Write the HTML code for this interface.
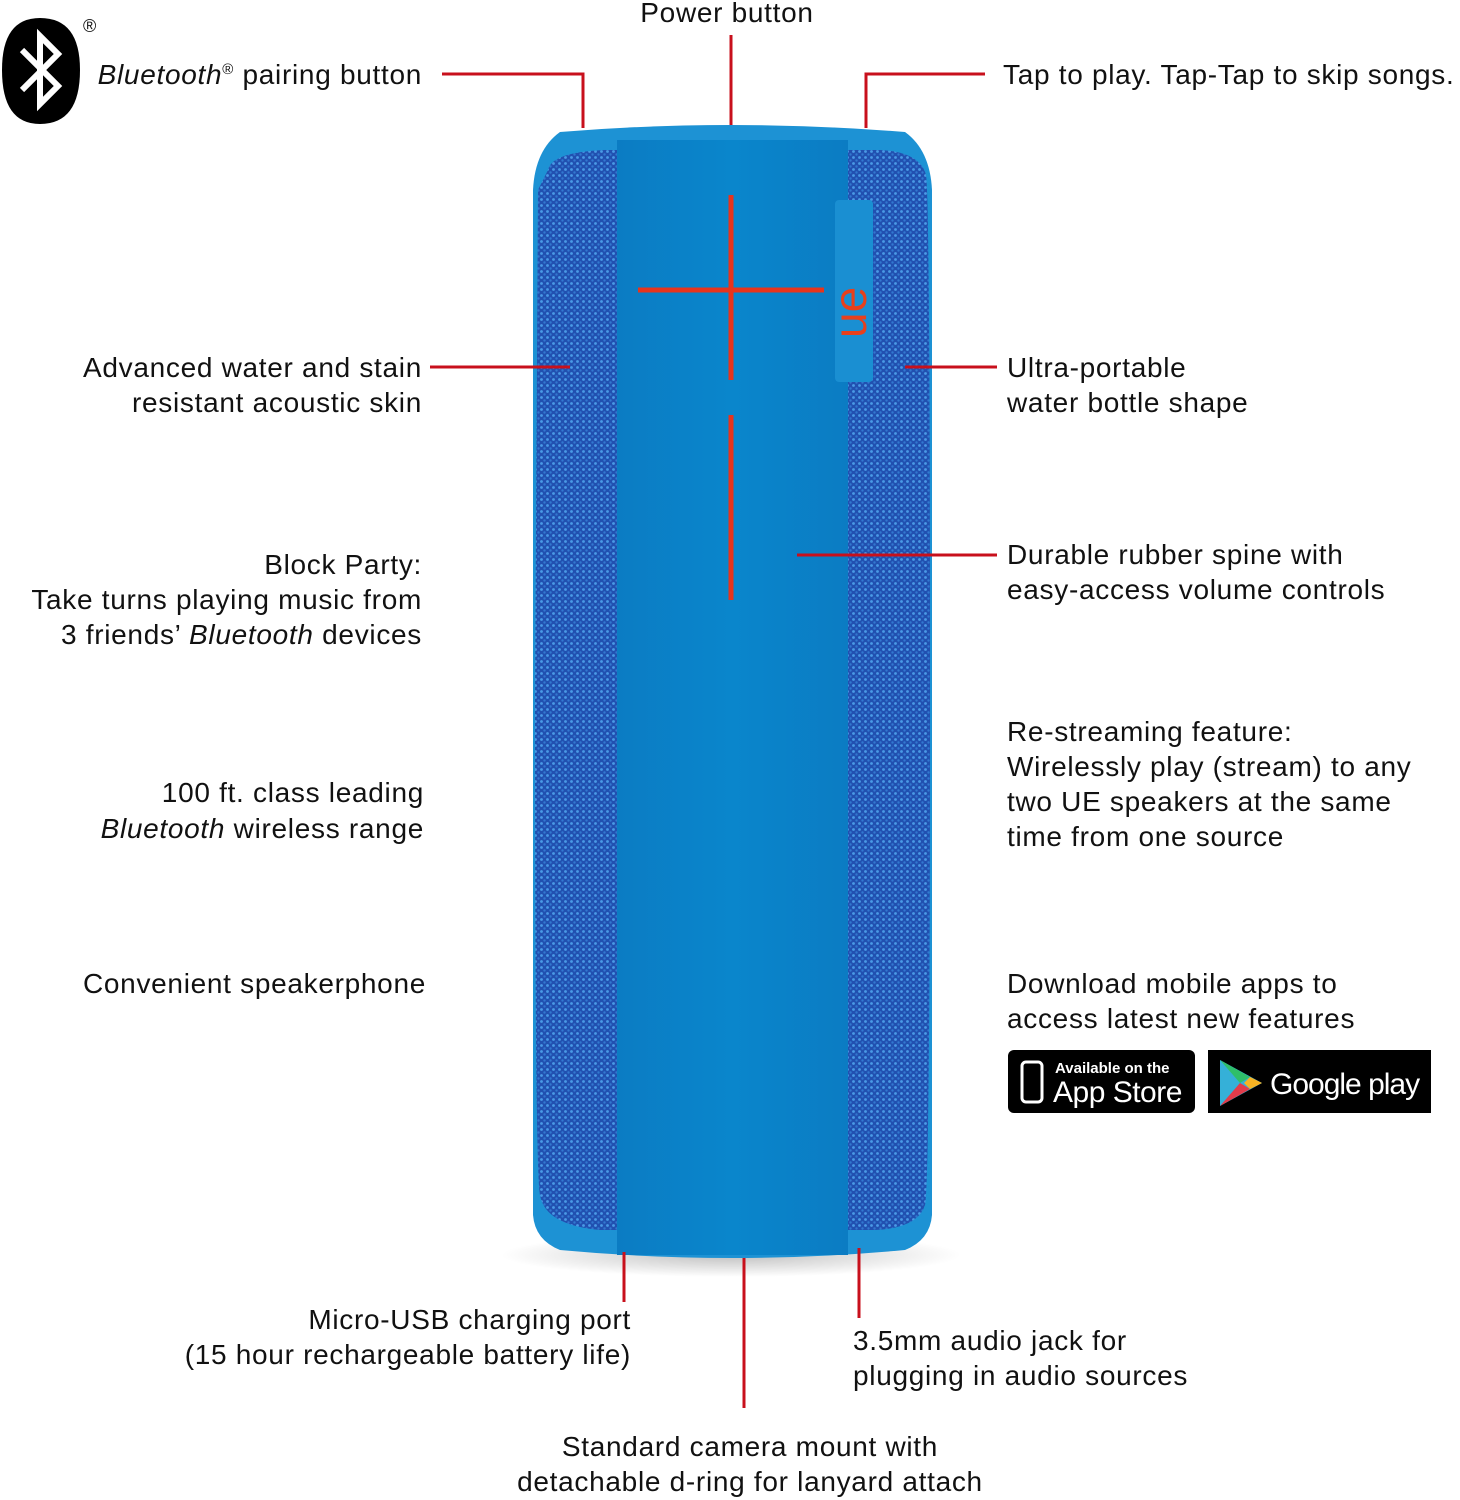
<!DOCTYPE html>
<html><head><meta charset="utf-8"><style>
html,body{margin:0;padding:0;background:#fff;}
svg{display:block;}
text{font-family:"Liberation Sans",sans-serif;font-size:28px;fill:#111;letter-spacing:0.7px;}
.r{text-anchor:end}
.m{text-anchor:middle}
</style></head><body>
<svg width="1460" height="1500" viewBox="0 0 1460 1500" xmlns="http://www.w3.org/2000/svg">
<defs>
<pattern id="fab" width="6" height="6" patternUnits="userSpaceOnUse">
<rect width="6" height="6" fill="#2150b0"/>
<circle cx="1.5" cy="1.5" r="1.4" fill="#4a9ae6"/>
<circle cx="4.5" cy="4.5" r="1.2" fill="#3278d0"/>
</pattern>
<linearGradient id="spine" x1="0" x2="1">
<stop offset="0" stop-color="#0b7cc3"/><stop offset="0.5" stop-color="#0a86cc"/><stop offset="1" stop-color="#0b7cc3"/>
</linearGradient>
<radialGradient id="sh" cx="0.5" cy="0.5" r="0.5"><stop offset="0" stop-color="#000" stop-opacity="0.25"/><stop offset="1" stop-color="#000" stop-opacity="0"/></radialGradient>
</defs>
<ellipse cx="731" cy="1255" rx="230" ry="22" fill="url(#sh)"/>
<path d="M560 132 Q731 118 905 132 Q930 150 932 190 L932 1215 Q930 1240 905 1250 Q731 1266 560 1250 Q535 1240 533 1215 L533 190 Q535 150 560 132Z" fill="#1d92d4"/>
<path d="M548 170 Q552 152 605 150 L617 150 L617 1230 L600 1230 Q545 1225 540 1195 Q535 1175 535 700 L538 190Z" fill="url(#fab)"/>
<path d="M848 150 L880 150 Q920 152 926 175 Q930 200 930 700 Q930 1180 925 1205 Q918 1228 875 1230 L848 1230Z" fill="url(#fab)"/>
<rect x="617" y="140" width="231" height="1115" fill="url(#spine)"/>
<rect x="835" y="200" width="38" height="182" rx="4" fill="#1a8fd2"/>
<text x="0" y="0" transform="translate(866,338) rotate(-90)" style="font-size:46px;fill:#e8401c;letter-spacing:0">ue</text>
<line x1="731" y1="195" x2="731" y2="380" stroke="#e8341c" stroke-width="5"/>
<line x1="638" y1="290" x2="824" y2="290" stroke="#e8341c" stroke-width="5"/>
<line x1="731" y1="415" x2="731" y2="600" stroke="#e8341c" stroke-width="5"/>
<g stroke="#c8101c" stroke-width="3" fill="none">
<line x1="731" y1="35" x2="731" y2="125"/>
<polyline points="442,74 583,74 583,128"/>
<polyline points="985,74 866,74 866,128"/>
<line x1="430" y1="367" x2="570" y2="367"/>
<line x1="905" y1="367" x2="997" y2="367"/>
<line x1="797" y1="555" x2="997" y2="555"/>
<line x1="624" y1="1252" x2="624" y2="1302"/>
<line x1="744" y1="1258" x2="744" y2="1408"/>
<line x1="859" y1="1248" x2="859" y2="1318"/>
</g>
<path d="M40 18 Q80 18 80 70 Q80 124 40 124 Q2 124 2 70 Q2 18 40 18Z" fill="#000"/>
<polyline points="22,50 58,86 40,104 40,36 58,54 22,90" stroke="#fff" stroke-width="6" fill="none"/>
<text x="83" y="32" style="font-size:18px;letter-spacing:0">®</text>
<text x="727" y="22" class="m">Power button</text>
<text x="422" y="84" class="r"><tspan font-style="italic">Bluetooth</tspan><tspan style="font-size:15px" dy="-10">®</tspan><tspan dy="10"> pairing button</tspan></text>
<text x="1003" y="84">Tap to play. Tap-Tap to skip songs.</text>
<text x="422" y="377" class="r">Advanced water and stain</text>
<text x="422" y="412" class="r">resistant acoustic skin</text>
<text x="1007" y="377">Ultra-portable</text>
<text x="1007" y="412">water bottle shape</text>
<text x="422" y="574" class="r">Block Party:</text>
<text x="422" y="609" class="r">Take turns playing music from</text>
<text x="422" y="644" class="r">3 friends’ <tspan font-style="italic">Bluetooth</tspan> devices</text>
<text x="1007" y="564">Durable rubber spine with</text>
<text x="1007" y="599">easy-access volume controls</text>
<text x="1007" y="741">Re-streaming feature:</text>
<text x="1007" y="776">Wirelessly play (stream) to any</text>
<text x="1007" y="811">two UE speakers at the same</text>
<text x="1007" y="846">time from one source</text>
<text x="424" y="802" class="r">100 ft. class leading</text>
<text x="424" y="838" class="r"><tspan font-style="italic">Bluetooth</tspan> wireless range</text>
<text x="426" y="993" class="r">Convenient speakerphone</text>
<text x="1007" y="993">Download mobile apps to</text>
<text x="1007" y="1028">access latest new features</text>
<rect x="1008" y="1050" width="187" height="63" rx="6" fill="#000"/>
<rect x="1022" y="1062" width="20" height="40" rx="4" fill="none" stroke="#fff" stroke-width="3"/>
<text x="1055" y="1073" style="font-size:15px;fill:#fff;font-weight:bold;letter-spacing:0">Available on the</text>
<text x="1053" y="1102" style="font-size:30px;fill:#fff;letter-spacing:-0.5px">App Store</text>
<rect x="1208" y="1050" width="223" height="63" fill="#000"/>
<polygon points="1220,1060 1262,1083 1220,1106" fill="#35b0d8"/>
<polygon points="1220,1060 1250,1077 1240,1083" fill="#2fbf6a"/>
<polygon points="1220,1106 1250,1089 1240,1083" fill="#e23b4a"/>
<polygon points="1250,1077 1262,1083 1250,1089 1244,1083" fill="#f6b323"/>
<text x="1270" y="1094" style="font-size:30px;fill:#fff;letter-spacing:-1px">Google play</text>
<text x="631" y="1329" class="r">Micro-USB charging port</text>
<text x="631" y="1364" class="r">(15 hour rechargeable battery life)</text>
<text x="853" y="1350">3.5mm audio jack for</text>
<text x="853" y="1385">plugging in audio sources</text>
<text x="750" y="1456" class="m">Standard camera mount with</text>
<text x="750" y="1491" class="m">detachable d-ring for lanyard attach</text>
</svg>
</body></html>
